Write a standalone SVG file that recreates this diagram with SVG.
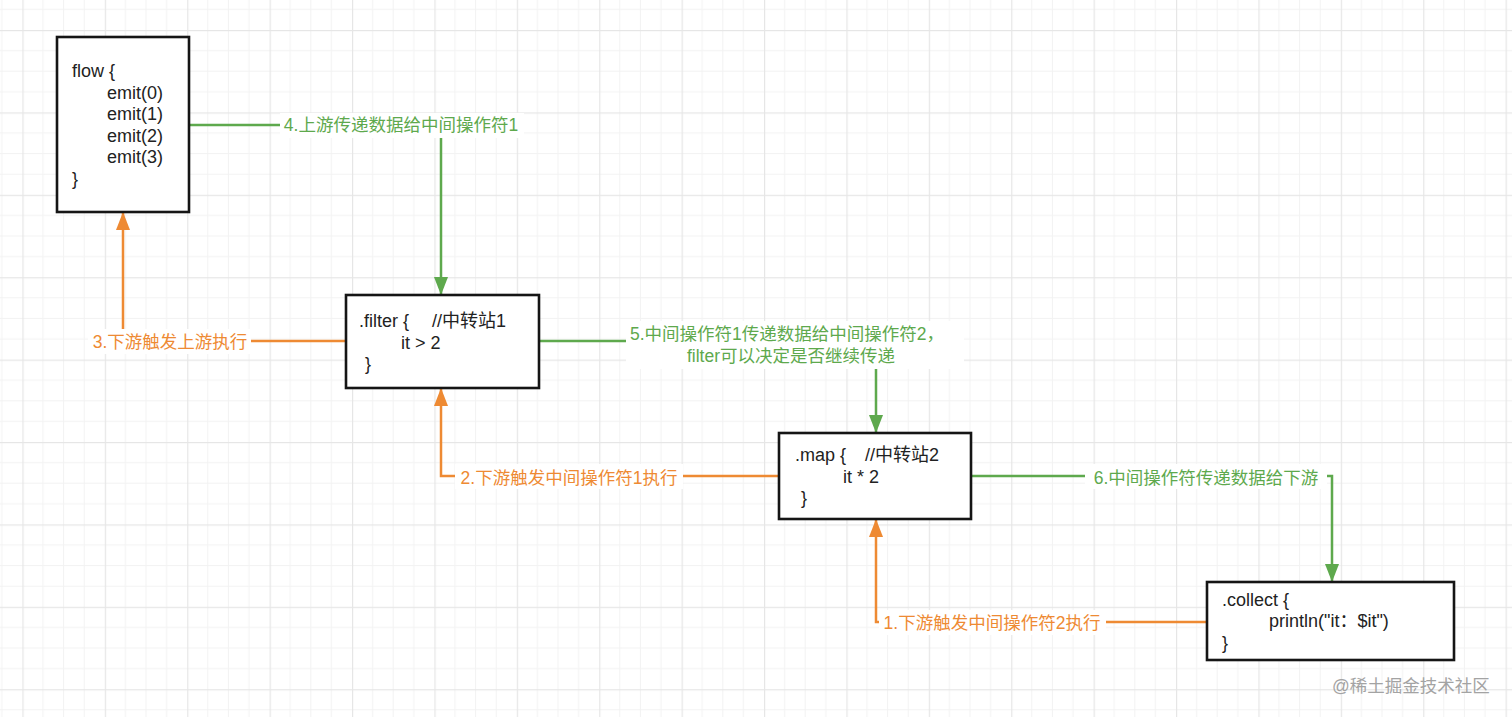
<svg xmlns="http://www.w3.org/2000/svg" width="1512" height="717" viewBox="0 0 1512 717">
<defs>
<pattern id="grid" x="22.4" y="30" width="82.4" height="82.4" patternUnits="userSpaceOnUse">
<g fill="#f2f2f2">
<rect x="20.1" y="0" width="1" height="82.4"/>
<rect x="40.7" y="0" width="1" height="82.4"/>
<rect x="61.3" y="0" width="1" height="82.4"/>
<rect x="0" y="20.1" width="82.4" height="1"/>
<rect x="0" y="40.7" width="82.4" height="1"/>
<rect x="0" y="61.3" width="82.4" height="1"/>
</g>
<g fill="#e6e6e6">
<rect x="0" y="0" width="1.2" height="82.4"/>
<rect x="0" y="0" width="82.4" height="1.2"/>
</g>
</pattern>
<marker id="ag" markerUnits="userSpaceOnUse" markerWidth="20" markerHeight="16" refX="18" refY="7" orient="auto" viewBox="0 0 20 14">
<path d="M0,0 L18,7 L0,14 Z" fill="#5ea94d"/>
</marker>
<marker id="ao" markerUnits="userSpaceOnUse" markerWidth="20" markerHeight="16" refX="18" refY="7" orient="auto" viewBox="0 0 20 14">
<path d="M0,0 L18,7 L0,14 Z" fill="#ee8a33"/>
</marker>
</defs>
<style>
.box{fill:#fff;stroke:#151515;stroke-width:2.6}
.code{font-family:"Liberation Sans","Noto Sans CJK SC",sans-serif;font-size:18px;fill:#222}
.g{fill:none;stroke:#5ea94d;stroke-width:2.5}
.o{fill:none;stroke:#ee8a33;stroke-width:2.5}
.lbl{font-family:"Liberation Sans","Noto Sans CJK SC",sans-serif;font-size:17.5px;text-anchor:middle}
.lg{fill:#5ea94d}
.lo{fill:#ee8a33}
.bg{fill:#fff}
</style>
<rect width="1512" height="717" fill="#fff"/>
<rect width="1512" height="717" fill="url(#grid)"/>

<g id="connectors">
<path class="g" d="M189,125 H441 V295" marker-end="url(#ag)"/>
<path class="o" d="M346,341 H123 V212" marker-end="url(#ao)"/>
<path class="g" d="M539,341 H876 V433" marker-end="url(#ag)"/>
<path class="o" d="M779,476 H441 V388" marker-end="url(#ao)"/>
<path class="g" d="M971,476 H1332 V582" marker-end="url(#ag)"/>
<path class="o" d="M1207,622 H876 V519" marker-end="url(#ao)"/>

<rect class="bg" x="280" y="113" width="244" height="25"/>
<text class="lbl lg" x="401" y="131">4.上游传递数据给中间操作符1</text>
<rect class="bg" x="88" y="329" width="163" height="25"/>
<text class="lbl lo" x="170" y="348">3.下游触发上游执行</text>
<rect class="bg" x="626" y="321" width="338" height="48"/>
<text class="lbl lg" x="787" y="340">5.中间操作符1传递数据给中间操作符2，</text>
<text class="lbl lg" x="791" y="362">filter可以决定是否继续传递</text>
<rect class="bg" x="455" y="464" width="228" height="25"/>
<text class="lbl lo" x="569" y="484">2.下游触发中间操作符1执行</text>
<rect class="bg" x="1085" y="464" width="242" height="25"/>
<text class="lbl lg" x="1206" y="484">6.中间操作符传递数据给下游</text>
<rect class="bg" x="879" y="610" width="227" height="25"/>
<text class="lbl lo" x="992" y="629">1.下游触发中间操作符2执行</text>
</g>

<g id="flow">
<rect class="box" x="57" y="37" width="132" height="175"/>
<text class="code" x="72" y="77">flow {</text>
<text class="code" x="107" y="98.5">emit(0)</text>
<text class="code" x="107" y="120">emit(1)</text>
<text class="code" x="107" y="141.5">emit(2)</text>
<text class="code" x="107" y="163">emit(3)</text>
<text class="code" x="72" y="184.5">}</text>
</g>

<g id="filter">
<rect class="box" x="346" y="295" width="193" height="93"/>
<text class="code" x="359" y="327">.filter {<tspan x="432">//中转站1</tspan></text>
<text class="code" x="401" y="348.5">it &gt; 2</text>
<text class="code" x="365" y="370">}</text>
</g>

<g id="map">
<rect class="box" x="779" y="433" width="192" height="86"/>
<text class="code" x="795" y="461">.map {<tspan x="865">//中转站2</tspan></text>
<text class="code" x="843" y="482.5">it * 2</text>
<text class="code" x="801" y="504">}</text>
</g>

<g id="collect">
<rect class="box" x="1207" y="582" width="247" height="78"/>
<text class="code" x="1222" y="606">.collect {</text>
<text class="code" x="1269" y="627">println("it：$it")</text>
<text class="code" x="1222" y="649">}</text>
</g>

<text x="1332" y="692" font-family="Liberation Sans,'Noto Sans CJK SC',sans-serif" font-size="17.5" fill="#a3a3a3">@稀土掘金技术社区</text>
</svg>
